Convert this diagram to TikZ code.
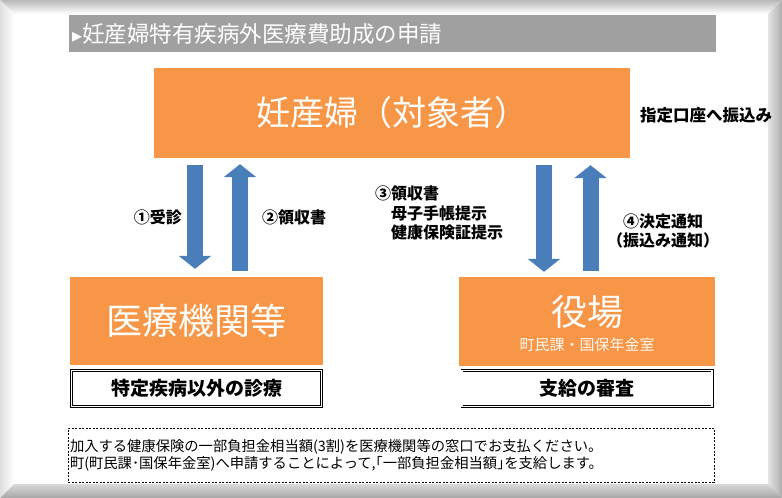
\documentclass[tikz,border=0pt]{standalone}
\usepackage{fontspec}
\usepackage{tikz}
\usetikzlibrary{arrows.meta}
\newfontfamily\jpfont{Noto Sans CJK JP}
\newfontfamily\symfont{DejaVu Sans}
\definecolor{boxorange}{RGB}{247,150,70}
\definecolor{arrowblue}{RGB}{74,126,187}
\definecolor{bargray}{RGB}{160,160,160}

\begin{document}
\begin{tikzpicture}[x=1pt,y=-1pt,font=\jpfont,
    orangebox/.style={fill=boxorange,text=white,inner sep=0pt},
    notebox/.style={draw,double,double distance=1.6pt,line width=.6pt,minimum width=250.2pt,minimum height=36.2pt,inner sep=0pt,font={\jpfont\bfseries\fontsize{19}{22}\selectfont}},
    bigarrow/.style={draw=arrowblue,line width=16pt,-{Triangle[width=32pt,length=13pt]}},
    lab/.style={inner sep=0pt,font={\jpfont\bfseries\fontsize{16}{19.5}\selectfont}}]
    \useasboundingbox (0,0) rectangle (782,498);
    % bevelled frame
    \shade[top color=gray!55,bottom color=white] (0,0) -- (782,0) -- (768,14) -- (14,14) -- cycle;
    \shade[left color=gray!25,right color=white] (0,0) -- (14,14) -- (14,484) -- (0,498) -- cycle;
    \shade[left color=gray!20,right color=gray!65] (782,0) -- (768,14) -- (768,484) -- (782,498) -- cycle;
    \shade[top color=gray!30,bottom color=gray!70] (0,498) -- (14,484) -- (768,484) -- (782,498) -- cycle;
    % title bar
    \fill[bargray] (69,15) rectangle (716,52);
    \node[anchor=west,inner sep=0pt,text=white,font={\jpfont\fontsize{22.5}{24}\selectfont}] (title) at (72,34)
      {{\symfont\fontsize{20}{22}\selectfont▸}妊産婦特有疾病外医療費助成の申請};
    % main boxes
    \node[orangebox,minimum width=476pt,minimum height=90pt,font={\jpfont\fontsize{34}{38}\selectfont}] (mother) at (392,113) {妊産婦（対象者）};
    \node[orangebox,minimum width=253pt,minimum height=88pt,font={\jpfont\fontsize{36}{40}\selectfont}] (clinic) at (196.5,321) {医療機関等};
    \node[orangebox,minimum width=256pt,minimum height=89pt] (office) at (587,321.5) {};
    \node[inner sep=0pt,text=white,font={\jpfont\fontsize{36}{40}\selectfont}] (officename) at (587,312) {役場};
    \node[inner sep=0pt,text=white!92!boxorange,font={\jpfont\fontsize{15}{17}\selectfont}] (officesub) at (587,345) {町民課・国保年金室};
    \node[notebox] (clinicnote) at (196.5,388.5) {特定疾病以外の診療};
    \node[notebox] (officenote) at (587,388.5) {支給の審査};
    % arrows
    \draw[bigarrow,shorten <=7pt,shorten >=8pt] ([xshift=-1.5pt]clinic.north |- mother.south) -- ([xshift=-1.5pt]clinic.north);
    \draw[bigarrow,shorten <=6pt,shorten >=6pt] ([xshift=43.5pt]clinic.north) -- ([xshift=43.5pt]clinic.north |- mother.south);
    \draw[bigarrow,shorten <=7pt,shorten >=5pt] ([xshift=-43pt]office.north |- mother.south) -- ([xshift=-43pt]office.north);
    \draw[bigarrow,shorten <=6pt,shorten >=7pt] ([xshift=3.5pt]office.north) -- ([xshift=3.5pt]office.north |- mother.south);
    % labels
    \node[lab,anchor=east] (visit) at (182,217) {①受診};
    \node[lab,anchor=west] (receipt) at (262,217) {②領収書};
    \node[lab,anchor=west,align=left] (apply) at (375,213) {③領収書\\\hspace*{1em}母子手帳提示\\\hspace*{1em}健康保険証提示};
    \node[lab,align=center] (notice) at (663,231) {④決定通知\\（振込み通知）};
    \node[lab,anchor=west,font={\jpfont\bfseries\fontsize{16.5}{19}\selectfont}] (transfer) at (640,115) {指定口座へ振込み};
    % remark
    \node[draw,dashed,dash pattern=on 2pt off 1.5pt,line width=.7pt,inner xsep=2pt,text width=642pt,minimum height=54pt,align=left,
      font={\jpfont\fontsize{14.3}{17}\selectfont}] (remark) at (391,455)
      {加入する健康保険の一部負担金相当額(3割)を医療機関等の窓口でお支払ください。\\町(町民課･国保年金室)へ申請することによって,｢一部負担金相当額｣を支給します。};
  \end{tikzpicture}
\end{document}
